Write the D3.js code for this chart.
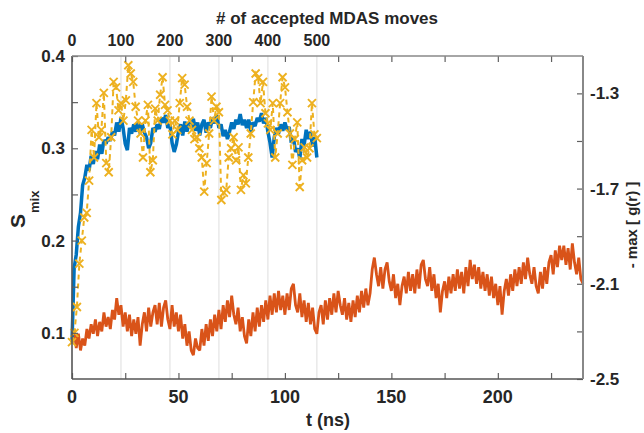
<!DOCTYPE html>
<html><head><meta charset="utf-8">
<script src="https://cdn.jsdelivr.net/npm/d3@7"></script>
<style>body{margin:0;background:#fff}svg{display:block}text{font-family:"Liberation Sans",Arial,sans-serif;fill:#262626}</style>
</head><body><svg id="c" width="644" height="433"></svg>
<script>
// ---- data ----
const orangeStepNs = 1;
const orangeVals = [
-2.35,-2.29,-2.37,-2.31,-2.38,-2.33,-2.36,-2.29,-2.33,-2.27,
-2.31,-2.25,-2.32,-2.26,-2.30,-2.22,-2.28,-2.24,-2.29,-2.21,
-2.25,-2.16,-2.23,-2.19,-2.28,-2.22,-2.30,-2.23,-2.32,-2.25,
-2.31,-2.24,-2.36,-2.27,-2.22,-2.30,-2.20,-2.28,-2.22,-2.19,
-2.27,-2.18,-2.28,-2.20,-2.17,-2.25,-2.29,-2.19,-2.28,-2.22,
-2.30,-2.23,-2.33,-2.27,-2.36,-2.30,-2.38,-2.40,-2.33,-2.37,
-2.38,-2.29,-2.36,-2.27,-2.34,-2.25,-2.32,-2.23,-2.30,-2.21,
-2.29,-2.19,-2.26,-2.17,-2.24,-2.15,-2.23,-2.27,-2.20,-2.30,
-2.24,-2.32,-2.35,-2.25,-2.32,-2.22,-2.30,-2.20,-2.28,-2.19,
-2.26,-2.17,-2.25,-2.15,-2.23,-2.14,-2.22,-2.13,-2.21,-2.15,
-2.23,-2.14,-2.21,-2.12,-2.10,-2.19,-2.22,-2.14,-2.24,-2.17,
-2.26,-2.18,-2.27,-2.20,-2.29,-2.31,-2.22,-2.19,-2.27,-2.17,
-2.25,-2.16,-2.23,-2.14,-2.22,-2.13,-2.19,-2.23,-2.16,-2.25,
-2.18,-2.26,-2.17,-2.24,-2.15,-2.22,-2.13,-2.20,-2.12,-2.19,
-2.14,-2.04,-1.99,-2.06,-2.11,-2.03,-2.12,-2.04,-2.01,-2.09,
-2.13,-2.06,-2.16,-2.10,-2.19,-2.11,-2.07,-2.14,-2.05,-2.13,
-2.06,-2.14,-2.04,-2.12,-2.02,-2.00,-2.08,-2.11,-2.03,-2.13,
-2.06,-2.16,-2.10,-2.22,-2.13,-2.09,-2.16,-2.07,-2.14,-2.06,
-2.13,-2.04,-2.12,-2.05,-2.14,-2.03,-2.11,-2.00,-2.08,-2.02,
-2.10,-2.03,-2.12,-2.05,-2.13,-2.06,-2.15,-2.07,-2.16,-2.10,
-2.19,-2.11,-2.23,-2.13,-2.08,-2.15,-2.06,-2.13,-2.04,-2.11,
-2.03,-2.10,-2.01,-2.08,-1.99,-2.06,-2.10,-2.03,-2.11,-2.14,
-2.05,-2.12,-2.03,-2.10,-2.01,-1.98,-2.06,-1.96,-2.03,-1.94,
-2.00,-1.94,-2.02,-1.95,-2.04,-1.93,-2.01,-2.06,-1.99,-2.08,-2.10];

const blueStepNs = 1;
const blueVals = [
0.09,0.17,0.185,0.215,0.23,0.26,0.268,0.282,0.276,0.292,
0.283,0.297,0.288,0.304,0.294,0.309,0.305,0.312,0.308,0.318,
0.314,0.328,0.318,0.333,0.322,0.305,0.298,0.322,0.316,0.326,
0.318,0.328,0.316,0.326,0.317,0.312,0.300,0.306,0.322,0.318,
0.326,0.321,0.333,0.328,0.336,0.322,0.326,0.306,0.296,0.304,
0.318,0.326,0.314,0.329,0.318,0.328,0.322,0.332,0.319,0.328,
0.314,0.326,0.331,0.317,0.328,0.322,0.333,0.327,0.336,0.322,
0.326,0.313,0.320,0.310,0.318,0.328,0.321,0.331,0.326,0.337,
0.325,0.331,0.322,0.331,0.318,0.328,0.324,0.333,0.329,0.338,
0.327,0.333,0.318,0.306,0.29,0.312,0.322,0.316,0.326,0.319,
0.328,0.320,0.323,0.306,0.312,0.296,0.300,0.289,0.310,0.303,
0.320,0.310,0.318,0.302,0.312,0.29];

const yellowStepMoves = 5;
const yellowVals = [
0.09,0.10,0.128,0.175,0.20,0.225,0.23,0.265,0.32,0.29,
0.349,0.312,0.32,0.36,0.284,0.274,0.312,0.372,0.366,0.341,
0.349,0.33,0.352,0.39,0.381,0.372,0.345,0.33,0.316,0.29,
0.33,0.347,0.274,0.287,0.343,0.33,0.358,0.377,0.347,0.341,
0.33,0.315,0.33,0.32,0.349,0.376,0.369,0.345,0.33,0.32,
0.31,0.312,0.30,0.29,0.253,0.284,0.316,0.356,0.33,0.345,
0.339,0.244,0.252,0.255,0.29,0.30,0.312,0.287,0.301,0.255,
0.271,0.262,0.29,0.316,0.35,0.381,0.376,0.349,0.372,0.338,
0.327,0.32,0.349,0.29,0.316,0.349,0.377,0.366,0.339,0.316,
0.282,0.31,0.328,0.258,0.287,0.301,0.29,0.30,0.349,0.315,0.311];

const movesAt115ns = 500;   // 500 accepted moves correspond to 115 ns
const nsFor500Moves = 115;

const leftTicks = [0.1,0.15,0.2,0.25,0.3,0.35,0.4];
const leftLabels = [0.1,0.2,0.3,0.4];
const rightTicks = [-2.5,-2.3,-2.1,-1.9,-1.7,-1.5,-1.3];
const rightLabels = [-2.5,-2.1,-1.7,-1.3];
const bottomTicks = [0,25,50,75,100,125,150,175,200,225];
const bottomLabels = [0,50,100,150,200];
const topLabels = [0,100,200,300,400,500];

// ---- layout ----
const L=72, R=583, T=56, B=379;
const svg = d3.select("#c");
const x = d3.scaleLinear().domain([0,240]).range([L,R]);
const xm = d3.scaleLinear().domain([0, 240*movesAt115ns/nsFor500Moves]).range([L,R]);
const yL = d3.scaleLinear().domain([0.05,0.4]).range([B,T]);
const yR = d3.scaleLinear().domain([-2.5,-1.143]).range([B,T]);

// grid (top axis)
svg.append("g").selectAll("line").data(topLabels.filter(d=>d>0)).join("line")
 .attr("x1",d=>xm(d)).attr("x2",d=>xm(d)).attr("y1",T).attr("y2",B)
 .attr("stroke","#e3e3e3").attr("stroke-width",1.2);

// orange
svg.append("path").datum(orangeVals)
 .attr("d", d3.line().x((d,i)=>x(i*orangeStepNs)).y(d=>yR(d)))
 .attr("fill","none").attr("stroke","#D95319").attr("stroke-width",2.8).attr("stroke-linejoin","bevel");

// blue
svg.append("path").datum(blueVals)
 .attr("d", d3.line().x((d,i)=>x(i*blueStepNs)).y(d=>yL(d)))
 .attr("fill","none").attr("stroke","#0072BD").attr("stroke-width",3.5).attr("stroke-linejoin","bevel");

// yellow dashed + x markers
svg.append("path").datum(yellowVals)
 .attr("d", d3.line().x((d,i)=>xm(i*yellowStepMoves)).y(d=>yL(d)))
 .attr("fill","none").attr("stroke","#EDB120").attr("stroke-width",2).attr("stroke-dasharray","5,4");
const ms=4;
svg.append("g").selectAll("path").data(yellowVals).join("path")
 .attr("transform",(d,i)=>`translate(${xm(i*yellowStepMoves)},${yL(d)})`)
 .attr("d",`M${-ms},${-ms}L${ms},${ms}M${-ms},${ms}L${ms},${-ms}`)
 .attr("stroke","#EDB120").attr("stroke-width",1.9).attr("fill","none");

// axes
const axCol="#606060";
function style(g){ g.select(".domain").remove(); g.selectAll(".tick line").attr("stroke",axCol).attr("stroke-width",1.2); g.selectAll("text").remove(); }
svg.append("g").attr("transform",`translate(${L},0)`).call(d3.axisLeft(yL).tickValues(leftTicks).tickSize(-6)).call(style);
svg.append("g").attr("transform",`translate(${R},0)`).call(d3.axisRight(yR).tickValues(rightTicks).tickSize(-6)).call(style);
svg.append("g").attr("transform",`translate(0,${B})`).call(d3.axisBottom(x).tickValues(bottomTicks).tickSize(-6)).call(style);
svg.append("g").attr("transform",`translate(0,${T})`).call(d3.axisTop(x).tickValues(bottomTicks).tickSize(-6)).call(style);

// frame
svg.append("line").attr("x1",L).attr("x2",L).attr("y1",T).attr("y2",B).attr("stroke","#555").attr("stroke-width",1.6);
svg.append("line").attr("x1",L).attr("x2",R).attr("y1",B).attr("y2",B).attr("stroke","#555").attr("stroke-width",1.6);
svg.append("line").attr("x1",L).attr("x2",R).attr("y1",T).attr("y2",T).attr("stroke","#888").attr("stroke-width",1.6);
svg.append("line").attr("x1",R).attr("x2",R).attr("y1",T).attr("y2",B).attr("stroke","#888").attr("stroke-width",2);

// tick labels
const lab = svg.append("g").attr("font-weight","bold");
lab.selectAll(".ll").data(leftLabels).join("text").attr("x",65).attr("y",d=>yL(d)).attr("dy","0.36em")
 .attr("text-anchor","end").attr("font-size",17).text(d=>d3.format(".1f")(d));
lab.selectAll(".rl").data(rightLabels).join("text").attr("x",590).attr("y",d=>yR(d)).attr("dy","0.36em")
 .attr("text-anchor","start").attr("font-size",17).text(d=>d3.format(".1f")(d).replace("−","-"));
lab.selectAll(".bl").data(bottomLabels).join("text").attr("x",d=>x(d)).attr("y",403)
 .attr("text-anchor","middle").attr("font-size",18).text(d=>d);
lab.selectAll(".tl").data(topLabels).join("text").attr("x",d=>xm(d)).attr("y",46)
 .attr("text-anchor","middle").attr("font-size",16).text(d=>d);

// titles
svg.append("text").attr("x",327).attr("y",24).attr("text-anchor","middle").attr("font-size",17).attr("font-weight","bold").text("# of accepted MDAS moves");
svg.append("text").attr("x",328).attr("y",426).attr("text-anchor","middle").attr("font-size",18).attr("font-weight","bold").text("t (ns)");
const sl = svg.append("text").attr("transform","translate(25,228) rotate(-90)").attr("font-weight","bold").attr("text-anchor","start");
sl.append("tspan").attr("font-size",21).text("S");
sl.append("tspan").attr("font-size",13).attr("dy",14).attr("dx",1).text("mix");
svg.append("text").attr("transform","translate(637,225) rotate(-90)").attr("text-anchor","middle").attr("font-size",15).attr("font-weight","bold").text("- max [ g(r) ]");
</script></body></html>
